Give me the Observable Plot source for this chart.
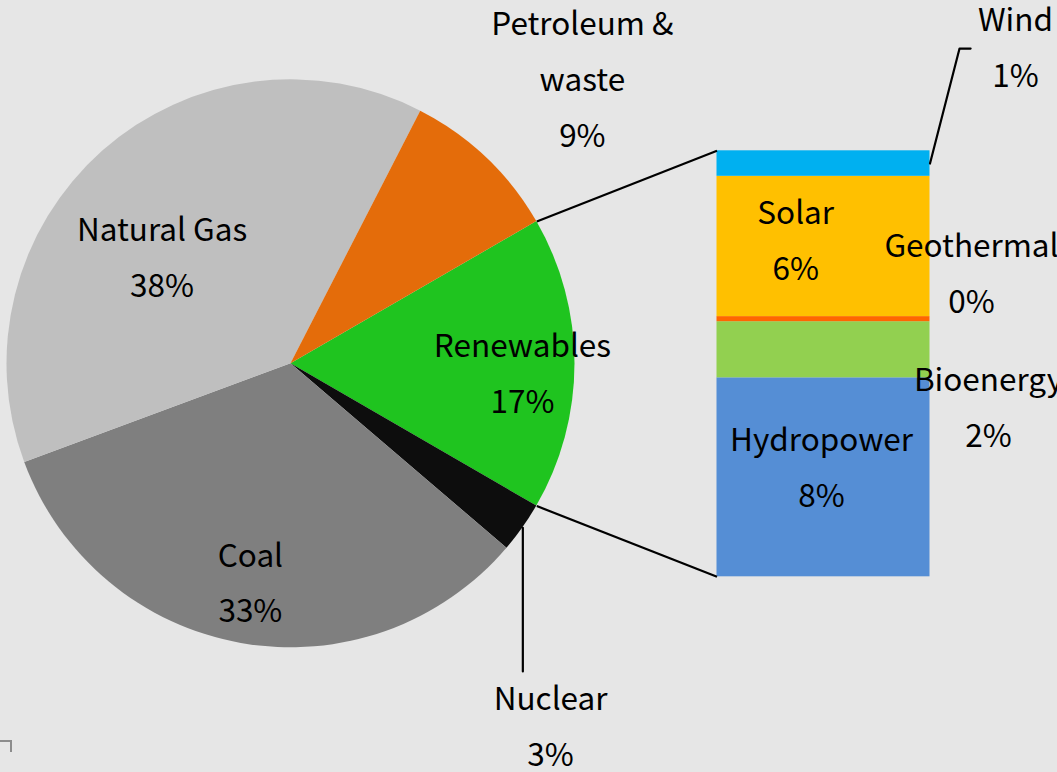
<!DOCTYPE html>
<html><head><meta charset="utf-8">
<script src="https://cdn.jsdelivr.net/npm/d3@7"></script>
<script src="https://cdn.jsdelivr.net/npm/@observablehq/plot@0.6"></script>
<style>
html,body{margin:0;padding:0;background:#e6e6e6;}
#chart{position:relative;width:1057px;height:772px;overflow:hidden;background:#e6e6e6;}
#corner{position:absolute;left:0;top:740px;width:10px;height:10px;border-top:2px solid #8c8c8c;border-right:2px solid #8c8c8c;}
</style></head><body><div id="chart"><div id="corner"></div></div>
<script>
// ---- data ----
const pieCategories = ["Renewables", "Nuclear", "Coal", "Natural Gas", "Petroleum & waste"];
const pieLabels = ["Renewables", "Nuclear", "Coal", "Natural Gas", "Petroleum &\nwaste"];
const pieValues = [16.7, 2.9, 33.1, 38.2, 9.1];
const pieColors = ["#1fc41f", "#0d0d0d", "#7f7f7f", "#bfbfbf", "#e46c0a"];

const barCategories = ["Hydropower", "Bioenergy", "Geothermal", "Solar", "Wind"];
const barValues = [7.8, 2.2, 0.2, 5.5, 1.0];
const barColors = ["#558ed5", "#92d050", "#ff6600", "#ffc000", "#00b0f0"];

// ---- layout (pie radius = 1 unit) ----
const W = 1057, H = 772, CX = 290.5, CY = 363.3, R = 284;
const xDomain = [-CX / R, (W - CX) / R];
const yDomain = [-(H - CY) / R, CY / R];
const barX1 = 1.5, barX2 = 2.25, barH = 1.5;
const pieLabelPos = {
  "Renewables": [0.815, -0.036],
  "Nuclear": [0.914, -1.279],
  "Coal": [-0.143, -0.774],
  "Natural Gas": [-0.454, 0.371],
  "Petroleum & waste": [1.026, 0.998]
};
const barLabelPos = {
  "Hydropower": [1.868, -0.367],
  "Bioenergy": [2.456, -0.157],
  "Geothermal": [2.396, 0.316],
  "Solar": [1.777, 0.432],
  "Wind": [2.551, 1.112]
};

// ---- derived ----
const renewShare = pieValues[0] / d3.sum(pieValues);
const arcs = d3.pie().sort(null)
  .startAngle(Math.PI / 2 - renewShare * Math.PI)
  .endAngle(Math.PI / 2 - renewShare * Math.PI + 2 * Math.PI)(pieValues);
const polar = (a, r = 1) => [r * Math.sin(a), r * Math.cos(a)];

const barTotal = d3.sum(barValues);
let acc = 0;
const bars = barCategories.map((c, i) => {
  const lo = acc; acc += barValues[i];
  return {category: c, value: barValues[i], color: barColors[i],
          y1: -barH / 2 + lo / barTotal * barH, y2: -barH / 2 + acc / barTotal * barH};
});

const pieLabelData = pieCategories.map((c, i) => ({
  text: `${pieLabels[i]}\n${Math.round(pieValues[i])}%`,
  u: pieLabelPos[c][0], v: pieLabelPos[c][1]
}));
const barLabelData = bars.map(b => ({
  text: `${b.category}\n${Math.round(b.value)}%`,
  u: barLabelPos[b.category][0], v: barLabelPos[b.category][1]
}));

// connectors from renewables slice edges to bar corners
const rStart = polar(arcs[0].startAngle), rEnd = polar(arcs[0].endAngle);
const connectors = [
  {x1: rStart[0], y1: rStart[1], x2: barX1, y2: bars[bars.length - 1].y2},
  {x1: rEnd[0], y1: rEnd[1], x2: barX1, y2: bars[0].y1}
];
// leader lines
const nucMid = polar((arcs[1].startAngle + arcs[1].endAngle) / 2);
const windBar = bars[4];
const leaders = [
  [{u: nucMid[0], v: nucMid[1]}, {u: nucMid[0], v: -1.0835}],
  [{u: barX2, v: (windBar.y1 + windBar.y2) / 2}, {u: 2.354, v: 1.110}, {u: 2.393, v: 1.110}]
];

function pieMark(index, {x, y}) {
  const r = x(1) - x(0);
  const g = d3.create("svg:g").attr("transform", `translate(${x(0)},${y(0)})`);
  const arc = d3.arc().innerRadius(0).outerRadius(r);
  g.selectAll("path").data(arcs).join("path")
    .attr("d", arc).attr("fill", (d, i) => pieColors[i]);
  return g.node();
}

const chart = Plot.plot({
  width: W, height: H, margin: 0,
  x: {domain: xDomain, axis: null},
  y: {domain: yDomain, axis: null},
  style: {background: "transparent", fontFamily: "'Noto Sans CJK JP', sans-serif", color: "black"},
  marks: [
    pieMark,
    Plot.rect(bars, {x1: barX1, x2: barX2, y1: "y1", y2: "y2", fill: "color"}),
    Plot.link(connectors, {x1: "x1", y1: "y1", x2: "x2", y2: "y2", stroke: "black", strokeWidth: 2.2}),
    Plot.line(leaders[0], {x: "u", y: "v", stroke: "black", strokeWidth: 2.2}),
    Plot.line(leaders[1], {x: "u", y: "v", stroke: "black", strokeWidth: 2.2}),
    Plot.text(pieLabelData, {x: "u", y: "v", text: "text", fontSize: 31.5, lineHeight: 1.77, dy: -7, fill: "black"}),
    Plot.text(barLabelData, {x: "u", y: "v", text: "text", fontSize: 31.5, lineHeight: 1.77, dy: -7, fill: "black"})
  ]
});
document.getElementById("chart").appendChild(chart);
</script>
</body></html>
